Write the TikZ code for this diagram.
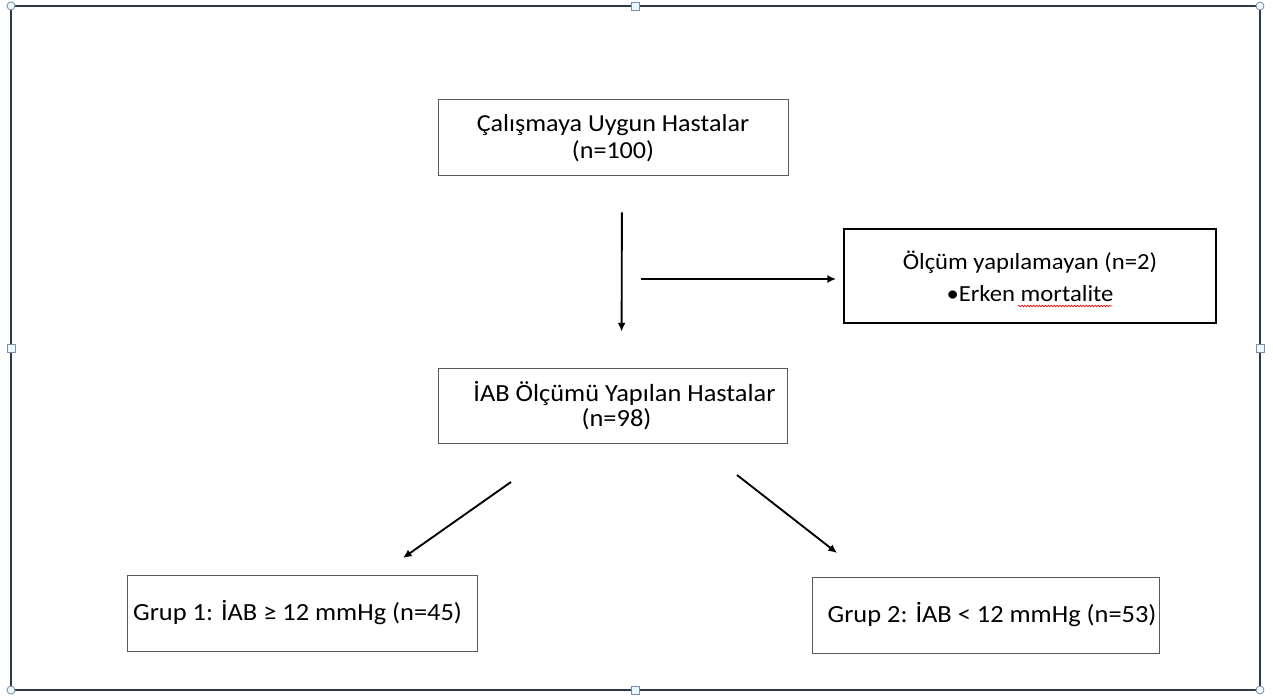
\documentclass[tikz,border=0pt]{standalone}
\usepackage{fontspec}
\setmainfont{Carlito}[FakeStretch=1.07]
\usetikzlibrary{arrows.meta,decorations.pathmorphing}
\definecolor{framecol}{HTML}{2B3A4A}
\definecolor{handlecol}{HTML}{7A8CA8}

\begin{document}
\begin{tikzpicture}[x=0.75pt, y=-0.75pt, font=\fontsize{18.5pt}{18.5pt}\selectfont,
    box/.style = {draw=black!65, line width=0.75pt, text=black, align=center, inner sep=0pt},
    arr/.style = {-{Latex[length=6.5pt,width=6pt]}, line width=1.4pt},
    handle/.style = {draw=handlecol, fill=cyan!8, line width=0.6pt}]
        \useasboundingbox (0,0) rectangle (1273,698);
        \draw[framecol, line width=1.5pt] (11,6) rectangle (1260,690);
        \foreach \x/\y in {11/6, 1260/6, 11/690, 1260/690} \draw[handle] (\x,\y) circle (3pt);
        \foreach \x/\y in {635.5/6, 635.5/690, 11/348, 1260/348} \draw[handle] (\x-4,\y-4) rectangle (\x+4,\y+4);

        \node[box, font=\fontsize{18.3pt}{20pt}\selectfont, minimum width=262.5pt, minimum height=57pt](eligible) at (613,138) {Çalışmaya Uygun Hastalar\\(n=100)};
        \node[box, font=\fontsize{17.3pt}{23.8pt}\selectfont, draw=black, line width=1.5pt, minimum width=279pt, minimum height=70.5pt](skipped) at (1030,276) {Ölçüm yapılamayan (n=2)\\•Erken mortalite};
        \node[box, font=\fontsize{18.5pt}{18.5pt}\selectfont, minimum width=261.75pt, minimum height=56.25pt](measured) at (612.5,405.5) {\hspace*{18pt}İAB Ölçümü Yapılan Hastalar\\\hspace*{6pt}(n=98)};
        \node[box, minimum width=262.5pt, minimum height=57pt](group1) at (302,613) {Grup 1: İAB ≥ 12 mmHg (n=45)\hspace*{6.75pt}};
        \node[box, minimum width=260.25pt, minimum height=57pt](group2) at (985.5,615) {\hspace*{9.75pt}Grup 2: İAB < 12 mmHg (n=53)};

        \coordinate (h0) at (641,279);
        \coordinate (l0) at (511,482);
        \coordinate (l1) at (403,558);
        \coordinate (r0) at (737,475);
        \coordinate (r1) at (837,553);

        \draw[arr, shorten <=27pt, shorten >=27pt] ([xshift=6.75pt]eligible.south) -- ([xshift=6.75pt]measured.north);
        \draw[arr, shorten >=5.25pt] (h0) -- (h0 -| skipped.west);
        \draw[arr] (l0) -- (l1);
        \draw[arr] (r0) -- (r1);

        \draw[red, line width=0.5pt, decorate, decoration={snake, amplitude=0.6pt, segment length=2.2pt}] (1018,306) -- (1112,306);
    \end{tikzpicture}
\end{document}
